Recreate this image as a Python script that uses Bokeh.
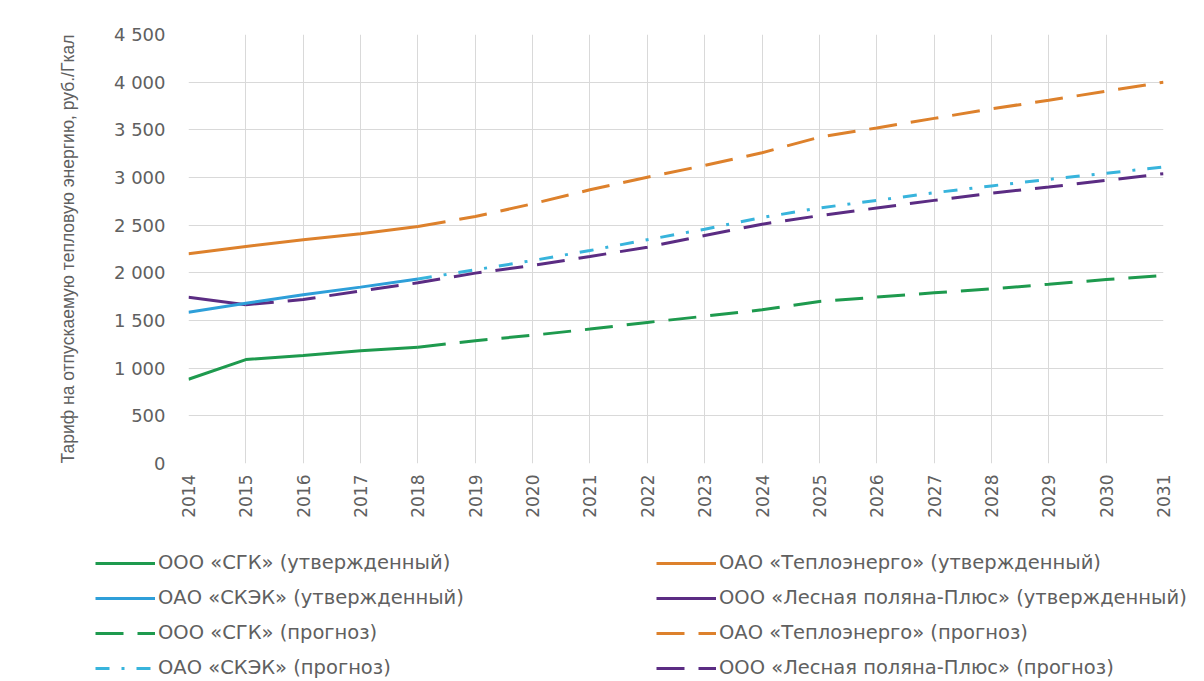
from bokeh.plotting import figure
from bokeh.layouts import column, row
from bokeh.models import Range1d, Legend, LegendItem, FixedTicker
from bokeh.embed import file_html
from bokeh.resources import INLINE
import math

# ---- data ----
years = list(range(2014, 2032))

sgk_years_appr = [2014, 2015, 2016, 2017, 2018]
sgk_appr = [884, 1090, 1133, 1183, 1220]
sgk_years_fc = list(range(2018, 2032))
sgk_fc = [1220, 1288, 1345, 1410, 1480, 1545, 1612, 1700, 1745, 1790, 1832, 1880, 1930, 1972]

teplo_years_appr = [2014, 2015, 2016, 2017, 2018]
teplo_appr = [2200, 2276, 2347, 2410, 2486]
teplo_years_fc = list(range(2018, 2032))
teplo_fc = [2486, 2590, 2724, 2871, 3003, 3126, 3260, 3423, 3520, 3620, 3720, 3810, 3905, 4000]

skek_years_appr = [2014, 2015, 2016, 2017, 2018]
skek_appr = [1587, 1682, 1770, 1850, 1935]
skek_years_fc = list(range(2018, 2032))
skek_fc = [1935, 2032, 2129, 2234, 2347, 2458, 2580, 2680, 2760, 2840, 2912, 2980, 3045, 3110]

lp_years_appr = [2014, 2015]
lp_appr = [1745, 1665]
lp_years_fc = list(range(2015, 2032))
lp_fc = [1665, 1720, 1810, 1895, 1997, 2077, 2171, 2269, 2392, 2510, 2600, 2680, 2760, 2835, 2900, 2970, 3040]

y_ticks = [0, 500, 1000, 1500, 2000, 2500, 3000, 3500, 4000, 4500]
y_tick_labels = ["0", "500", "1 000", "1 500", "2 000", "2 500", "3 000", "3 500", "4 000", "4 500"]

labels = {
    "sgk_a": "ООО «СГК» (утвержденный)",
    "skek_a": "ОАО «СКЭК» (утвержденный)",
    "sgk_f": "ООО «СГК» (прогноз)",
    "skek_f": "ОАО «СКЭК» (прогноз)",
    "teplo_a": "ОАО «Теплоэнерго» (утвержденный)",
    "lp_a": "ООО «Лесная поляна-Плюс» (утвержденный)",
    "teplo_f": "ОАО «Теплоэнерго» (прогноз)",
    "lp_f": "ООО «Лесная поляна-Плюс» (прогноз)",
}

series = {
    "sgk_a": (sgk_years_appr, sgk_appr),
    "skek_a": (skek_years_appr, skek_appr),
    "sgk_f": (sgk_years_fc, sgk_fc),
    "skek_f": (skek_years_fc, skek_fc),
    "teplo_a": (teplo_years_appr, teplo_appr),
    "lp_a": (lp_years_appr, lp_appr),
    "teplo_f": (teplo_years_fc, teplo_fc),
    "lp_f": (lp_years_fc, lp_fc),
}

GREEN = "#1E9A4E"
ORANGE = "#DD812C"
BLUE = "#2E9FD9"
CYAN = "#38B4DC"
PURPLE = "#5B2C83"
TXT = "#606060"
FONT = "Liberation Sans"
WIDE = "DejaVu Sans"

LW = 3
DASH = "28 14"
DASHDOT = "14 12 3 12"

styles = {
    "sgk_a": dict(line_color=GREEN, line_width=LW),
    "skek_a": dict(line_color=BLUE, line_width=LW),
    "sgk_f": dict(line_color=GREEN, line_width=LW, line_dash=DASH),
    "skek_f": dict(line_color=CYAN, line_width=LW, line_dash=DASHDOT),
    "teplo_a": dict(line_color=ORANGE, line_width=LW),
    "lp_a": dict(line_color=PURPLE, line_width=LW),
    "teplo_f": dict(line_color=ORANGE, line_width=LW, line_dash=DASH),
    "lp_f": dict(line_color=PURPLE, line_width=LW, line_dash=DASH),
}

# ---------------- main chart ----------------
p = figure(width=1204, height=530, output_backend="svg", toolbar_location=None,
           x_range=Range1d(2014, 2031), y_range=Range1d(0, 4500),
           min_border_left=188, min_border_right=41, min_border_top=34, min_border_bottom=67)
p.outline_line_color = None

p.xaxis.ticker = FixedTicker(ticks=years)
p.yaxis.ticker = FixedTicker(ticks=y_ticks)
p.yaxis.major_label_overrides = {t: l for t, l in zip(y_ticks, y_tick_labels)}
p.xaxis.major_label_orientation = math.pi / 2
for ax in (p.xaxis[0], p.yaxis[0]):
    ax.axis_line_color = None
    ax.major_tick_line_color = None
    ax.minor_tick_line_color = None
    ax.major_label_text_color = TXT
    ax.major_label_text_font = WIDE
    ax.major_label_text_font_size = "18px"
p.xaxis.major_label_text_font_size = "17px"
p.xaxis.major_label_standoff = 5
p.yaxis.major_label_standoff = 17
p.yaxis.axis_label = "Тариф на отпускаемую тепловую энергию, руб./Гкал"
p.yaxis.axis_label_text_font = FONT
p.yaxis.axis_label_text_font_size = "17.5px"
p.yaxis.axis_label_text_font_style = "normal"
p.yaxis.axis_label_text_color = TXT
p.yaxis.axis_label_standoff = 33

p.xgrid.grid_line_color = "#d9d9d9"
p.ygrid.grid_line_color = "#d9d9d9"
p.xgrid.ticker = FixedTicker(ticks=years)
p.ygrid.ticker = FixedTicker(ticks=y_ticks)

for k in ["sgk_f", "teplo_f", "skek_f", "lp_f", "sgk_a", "teplo_a", "lp_a", "skek_a"]:
    xs, ys = series[k]
    p.line(xs, ys, **styles[k])

# ---------------- legend strip ----------------
lg = figure(width=1204, height=151, output_backend="svg", toolbar_location=None,
            x_range=Range1d(0, 1), y_range=Range1d(0, 1),
            x_axis_location=None, y_axis_location=None,
            min_border_left=0, min_border_right=0, min_border_top=0, min_border_bottom=0)
lg.outline_line_color = None
lg.grid.visible = False

# legend proxies (same series, outside this strip's visible range)
proxies = {k: lg.line(series[k][0], series[k][1], **s) for k, s in styles.items()}


def make_legend(keys, loc):
    return Legend(items=[LegendItem(label=labels[k], renderers=[proxies[k]]) for k in keys],
                  location=loc, orientation="vertical",
                  glyph_width=60, glyph_height=20, label_height=20, label_standoff=3,
                  spacing=12, padding=0, margin=0, border_line_color=None,
                  background_fill_alpha=0, label_text_font=WIDE,
                  label_text_font_size="19.5px", label_text_color=TXT)


lg.add_layout(make_legend(["sgk_a", "skek_a", "sgk_f", "skek_f"], (95, 2)), "center")
lg.add_layout(make_legend(["teplo_a", "lp_a", "teplo_f", "lp_f"], (656, 2)), "center")

layout = column(p, row(lg), spacing=0)
open("out.html", "w").write(file_html(layout, INLINE))
